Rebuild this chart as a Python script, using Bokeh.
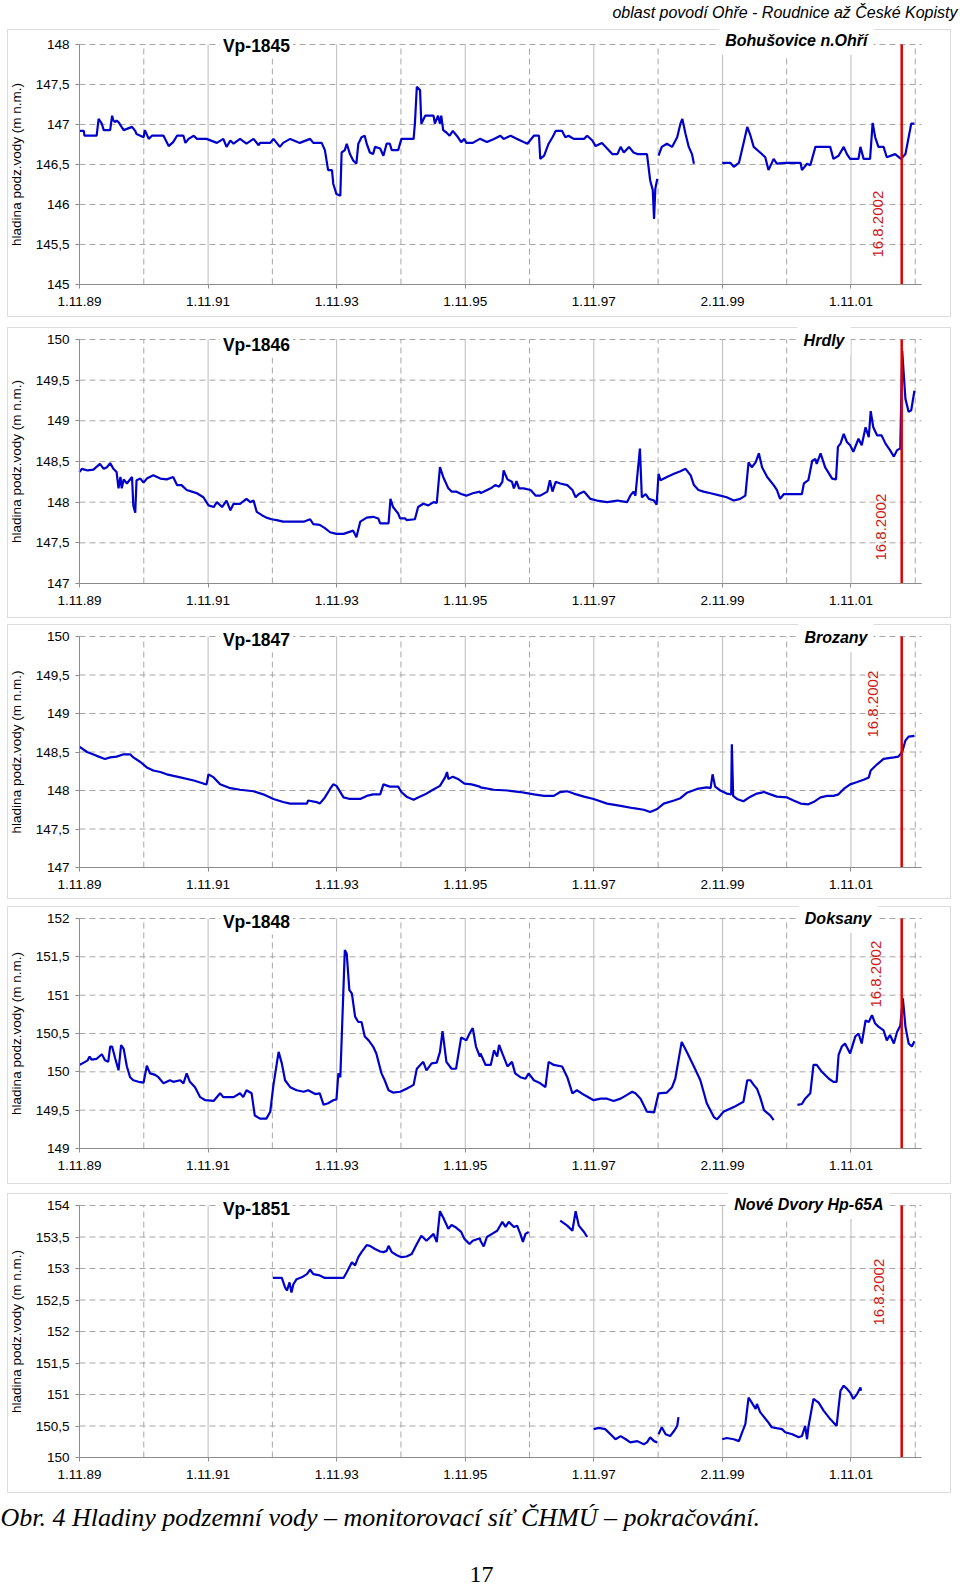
import math
from bokeh.plotting import figure
from bokeh.layouts import column
from bokeh.models import (Range1d, FixedTicker, CustomJSTickFormatter, Label, BoxAnnotation)
from bokeh.embed import file_html
from bokeh.resources import INLINE

nan = float("nan")

# ---------------- data ----------------
header_text = "oblast povodí Ohře - Roudnice až České Kopisty"
caption_text = "Obr. 4 Hladiny podzemní vody – monitorovací síť ČHMÚ – pokračování."
page_number = "17"
y_axis_title = "hladina podz.vody (m n.m.)"

x_tick_years = [1989.833, 1991.833, 1993.833, 1995.833, 1997.833, 1999.836, 2001.833]
x_tick_labels = ["1.11.89", "1.11.91", "1.11.93", "1.11.95", "1.11.97", "2.11.99", "1.11.01"]
x_minor_years = [1990.833, 1992.833, 1994.833, 1996.833, 1998.833, 2000.833, 2002.833]
flood_date = 2002.622
flood_label = "16.8.2002"

well_names = ["Vp-1845", "Vp-1846", "Vp-1847", "Vp-1848", "Vp-1851"]
station_names = ["Bohušovice n.Ohří", "Hrdly", "Brozany", "Doksany", "Nové Dvory Hp-65A"]

vp1845_t = [1989.83, 1989.90, 1989.91, 1990.10, 1990.13, 1990.18, 1990.21, 1990.31, 1990.34, 1990.36,
            1990.39, 1990.41, 1990.44, 1990.52, 1990.65, 1990.70, 1990.72, 1990.78, 1990.83, 1990.85,
            1990.91, 1990.96, 1991.14, 1991.22, 1991.29, 1991.35, 1991.45, 1991.48, 1991.53, 1991.61,
            1991.66, 1991.81, 1991.97, 1992.07, 1992.12, 1992.18, 1992.23, 1992.33, 1992.43, 1992.54,
            1992.62, 1992.64, 1992.80, 1992.85, 1992.95, 1993.00, 1993.11, 1993.26, 1993.42, 1993.47,
            1993.60, 1993.65, 1993.70, 1993.76, 1993.78, 1993.83, 1993.89, 1993.91, 1993.96, 1993.99,
            1994.04, 1994.09, 1994.14, 1994.17, 1994.22, 1994.27, 1994.30, 1994.35, 1994.40, 1994.43,
            1994.51, 1994.56, 1994.61, 1994.66, 1994.69, 1994.79, 1994.84, 1995.03, 1995.05, 1995.08,
            1995.13, 1995.15, 1995.21, 1995.34, 1995.36, 1995.41, 1995.44, 1995.46, 1995.49, 1995.54,
            1995.59, 1995.64, 1995.72, 1995.77, 1995.82, 1995.85, 1995.95, 1996.06,
            1996.07, 1996.17, 1996.28, 1996.38, 1996.43, 1996.54, 1996.64, 1996.74, 1996.80, 1996.90,
            1996.98, 1997.00, 1997.06, 1997.13, 1997.19, 1997.24, 1997.34, 1997.39, 1997.44, 1997.52,
            1997.68, 1997.73, 1997.81, 1997.86, 1997.96, 1998.04, 1998.12, 1998.20, 1998.25, 1998.30,
            1998.38, 1998.45, 1998.51, 1998.66, 1998.71, 1998.75, 1998.77, 1998.79, 1998.82,
            nan,
            1998.84, 1998.89, 1998.97, 1999.05, 1999.13, 1999.18, 1999.21, 1999.26, 1999.31, 1999.36, 1999.39,
            nan,
            1999.83, 1999.96, 2000.01, 2000.09, 2000.16, 2000.22, 2000.27, 2000.32, 2000.42, 2000.50,
            2000.55, 2000.63, 2000.68, 2000.81, 2001.05, 2001.07, 2001.15, 2001.20, 2001.28, 2001.51,
            2001.56, 2001.64, 2001.72, 2001.77, 2001.82, 2001.95, 2001.98, 2002.03, 2002.13, 2002.17,
            2002.21, 2002.26, 2002.34, 2002.39, 2002.52, 2002.61, 2002.68, 2002.73, 2002.77, 2002.82]
vp1845_h = [146.92, 146.92, 146.86, 146.86, 147.07, 147.01, 146.93, 146.93, 147.11, 147.05,
            147.03, 147.05, 147.03, 146.93, 146.97, 146.92, 146.88, 146.86, 146.84, 146.93,
            146.82, 146.86, 146.86, 146.73, 146.78, 146.86, 146.86, 146.77, 146.82, 146.86,
            146.82, 146.82, 146.77, 146.82, 146.72, 146.80, 146.76, 146.82, 146.76, 146.82,
            146.74, 146.77, 146.77, 146.82, 146.72, 146.77, 146.82, 146.77, 146.82, 146.77,
            146.77, 146.68, 146.43, 146.43, 146.26, 146.13, 146.11, 146.65, 146.68, 146.76,
            146.63, 146.55, 146.51, 146.76, 146.84, 146.86, 146.76, 146.65, 146.63, 146.72,
            146.70, 146.61, 146.76, 146.76, 146.68, 146.68, 146.82, 146.82, 147.01, 147.47,
            147.43, 147.01, 147.11, 147.11, 147.01, 147.11, 147.01, 147.11, 146.93, 146.90,
            146.86, 146.92, 146.84, 146.78, 146.82, 146.77, 146.77, 146.82,
            146.82, 146.78, 146.82, 146.86, 146.82, 146.86, 146.82, 146.78, 146.76, 146.86,
            146.86, 146.57, 146.61, 146.76, 146.84, 146.92, 146.92, 146.84, 146.86, 146.82,
            146.82, 146.86, 146.80, 146.73, 146.77, 146.70, 146.63, 146.63, 146.72, 146.65,
            146.72, 146.65, 146.63, 146.63, 146.30, 146.18, 145.82, 146.20, 146.32,
            nan,
            146.61, 146.72, 146.76, 146.72, 146.84, 147.01, 147.07, 146.88, 146.72, 146.63, 146.51,
            nan,
            146.52, 146.52, 146.47, 146.52, 146.76, 146.97, 146.86, 146.72, 146.65, 146.59,
            146.43, 146.57, 146.51, 146.52, 146.52, 146.43, 146.51, 146.49, 146.72, 146.72,
            146.57, 146.61, 146.72, 146.63, 146.57, 146.57, 146.72, 146.57, 146.57, 147.02,
            146.84, 146.72, 146.72, 146.59, 146.63, 146.57, 146.63, 146.84, 147.01, 147.01]

vp1846_t = [1989.83, 1989.87, 1989.96, 1990.05, 1990.15, 1990.21, 1990.26, 1990.31, 1990.36, 1990.41,
            1990.44, 1990.47, 1990.49, 1990.52, 1990.57, 1990.65, 1990.67, 1990.70, 1990.72, 1990.78,
            1990.83, 1990.88, 1990.98, 1991.09, 1991.19, 1991.29, 1991.35, 1991.42, 1991.50, 1991.58,
            1991.66, 1991.76, 1991.84, 1991.92, 1991.97, 1992.05, 1992.12, 1992.18, 1992.23, 1992.33,
            1992.43, 1992.49, 1992.54, 1992.59, 1992.67, 1992.74, 1992.82, 1992.90, 1993.00, 1993.16,
            1993.32, 1993.42, 1993.47, 1993.57, 1993.65, 1993.73, 1993.83, 1993.94, 1994.09, 1994.14,
            1994.20, 1994.30, 1994.40, 1994.48, 1994.51, 1994.64, 1994.67, 1994.71, 1994.79, 1994.82,
            1994.90, 1994.92, 1995.05, 1995.10, 1995.18, 1995.26, 1995.34, 1995.39, 1995.44, 1995.49,
            1995.57, 1995.62, 1995.69, 1995.77, 1995.85, 1995.95, 1996.06,
            1996.07, 1996.23, 1996.30, 1996.36, 1996.41, 1996.43, 1996.49, 1996.56, 1996.59, 1996.63,
            1996.67, 1996.74, 1996.85, 1996.93, 1997.00, 1997.11, 1997.15, 1997.19, 1997.24, 1997.31,
            1997.42, 1997.50, 1997.55, 1997.60, 1997.68, 1997.78, 1997.88, 1998.04, 1998.20, 1998.35,
            1998.40, 1998.45, 1998.48, 1998.55, 1998.58, 1998.64, 1998.69, 1998.77, 1998.81, 1998.84,
            1998.87, 1998.97, 1999.08, 1999.18, 1999.26, 1999.34, 1999.39, 1999.46, 1999.54, 1999.65,
            1999.80, 1999.90, 2000.01, 2000.11, 2000.19, 2000.24, 2000.29, 2000.35, 2000.40, 2000.45,
            2000.53, 2000.63, 2000.68, 2000.73, 2000.79, 2000.94, 2001.07, 2001.10, 2001.17, 2001.23,
            2001.28, 2001.30, 2001.36, 2001.43, 2001.54, 2001.60, 2001.63, 2001.67, 2001.72, 2001.77,
            2001.82, 2001.87, 2001.95, 2002.00, 2002.06, 2002.11, 2002.14, 2002.18, 2002.24, 2002.31,
            2002.37, 2002.44, 2002.50, 2002.55, 2002.60, 2002.63, 2002.65, 2002.68, 2002.73, 2002.77,
            2002.82]
vp1846_h = [148.37, 148.41, 148.39, 148.40, 148.47, 148.41, 148.43, 148.48, 148.41, 148.37,
            148.17, 148.31, 148.17, 148.28, 148.23, 148.31, 147.96, 147.87, 148.27, 148.29,
            148.24, 148.29, 148.33, 148.29, 148.28, 148.31, 148.21, 148.21, 148.15, 148.13,
            148.11, 148.06, 147.96, 147.94, 148.00, 147.94, 148.02, 147.90, 147.98, 147.98,
            148.04, 148.00, 148.02, 147.88, 147.84, 147.81, 147.79, 147.78, 147.76, 147.76,
            147.76, 147.79, 147.73, 147.72, 147.68, 147.63, 147.61, 147.61, 147.65, 147.57,
            147.76, 147.81, 147.82, 147.80, 147.74, 147.74, 148.04, 147.94, 147.86, 147.80,
            147.80, 147.78, 147.79, 147.94, 147.98, 147.96, 148.00, 147.99, 148.43, 148.31,
            148.17, 148.13, 148.13, 148.10, 148.08, 148.11, 148.13,
            148.11, 148.17, 148.21, 148.19, 148.25, 148.39, 148.28, 148.25, 148.17, 148.26,
            148.17, 148.17, 148.15, 148.08, 148.08, 148.13, 148.27, 148.13, 148.25, 148.23,
            148.21, 148.15, 148.06, 148.10, 148.13, 148.04, 148.02, 148.00, 148.02, 148.00,
            148.08, 148.13, 148.08, 148.66, 148.06, 148.10, 148.04, 148.02, 147.97, 148.35,
            148.27, 148.31, 148.35, 148.38, 148.41, 148.33, 148.21, 148.15, 148.13, 148.11,
            148.08, 148.06, 148.02, 148.04, 148.08, 148.49, 148.43, 148.49, 148.60, 148.43,
            148.31, 148.21, 148.15, 148.04, 148.10, 148.10, 148.10, 148.23, 148.27, 148.51,
            148.53, 148.47, 148.60, 148.43, 148.29, 148.28, 148.68, 148.72, 148.84, 148.74,
            148.70, 148.62, 148.78, 148.70, 148.92, 148.80, 149.12, 148.92, 148.82, 148.82,
            148.72, 148.64, 148.56, 148.64, 148.66, 149.86, 149.62, 149.27, 149.11, 149.13,
            149.37]

vp1847_t = [1989.83, 1989.95, 1990.10, 1990.23, 1990.31, 1990.41, 1990.52, 1990.62, 1990.67, 1990.78,
            1990.88, 1990.98, 1991.09, 1991.19, 1991.40, 1991.61, 1991.76, 1991.81, 1991.84, 1991.92,
            1992.02, 1992.18, 1992.33, 1992.54, 1992.69, 1992.85, 1993.00, 1993.11, 1993.26, 1993.37,
            1993.39, 1993.52, 1993.57, 1993.65, 1993.73, 1993.78, 1993.83, 1993.94, 1994.04, 1994.20,
            1994.30, 1994.40, 1994.51, 1994.56, 1994.66, 1994.79, 1994.84, 1994.92, 1995.03, 1995.10,
            1995.21, 1995.31, 1995.44, 1995.52, 1995.55, 1995.57, 1995.64, 1995.72, 1995.82, 1995.93,
            1996.06,
            1996.07, 1996.28, 1996.49, 1996.69, 1996.90, 1997.06, 1997.21, 1997.31, 1997.42, 1997.52,
            1997.68, 1997.83, 1998.04, 1998.25, 1998.45, 1998.61, 1998.71, 1998.82, 1998.92, 1999.08,
            1999.18, 1999.28, 1999.44, 1999.59, 1999.65, 1999.68, 1999.72, 1999.80, 1999.90, 1999.97,
            1999.98, 2000.00, 2000.06, 2000.16, 2000.27, 2000.37, 2000.48, 2000.58, 2000.68, 2000.84,
            2000.94, 2001.05, 2001.17, 2001.25, 2001.36, 2001.46, 2001.56, 2001.64, 2001.72, 2001.82,
            2001.93, 2002.03, 2002.11, 2002.14, 2002.24, 2002.34, 2002.50, 2002.57, 2002.63, 2002.68,
            2002.73, 2002.82]
vp1847_h = [148.57, 148.50, 148.45, 148.41, 148.43, 148.44, 148.47, 148.47, 148.43, 148.37,
            148.30, 148.26, 148.24, 148.21, 148.17, 148.13, 148.09, 148.08, 148.21, 148.17,
            148.08, 148.03, 148.01, 147.99, 147.95, 147.89, 147.85, 147.83, 147.83, 147.83,
            147.87, 147.85, 147.83, 147.91, 148.02, 148.08, 148.06, 147.91, 147.89, 147.89,
            147.93, 147.95, 147.95, 148.08, 148.05, 148.05, 147.98, 147.92, 147.88, 147.91,
            147.95, 148.00, 148.06, 148.17, 148.24, 148.15, 148.18, 148.15, 148.09, 148.08,
            148.05,
            148.04, 148.01, 148.00, 147.98, 147.95, 147.93, 147.93, 147.98, 147.99, 147.96,
            147.92, 147.89, 147.83, 147.80, 147.77, 147.75, 147.72, 147.76, 147.83, 147.87,
            147.90, 147.97, 148.02, 148.04, 148.03, 148.21, 148.05, 148.00, 147.96, 147.95,
            148.60, 147.93, 147.89, 147.86, 147.92, 147.96, 147.98, 147.95, 147.92, 147.91,
            147.87, 147.83, 147.82, 147.85, 147.91, 147.93, 147.93, 147.95, 148.02, 148.08,
            148.11, 148.14, 148.17, 148.26, 148.34, 148.41, 148.43, 148.44, 148.50, 148.65,
            148.70, 148.71]

vp1848_t = [1989.83, 1989.90, 1989.96, 1989.99, 1990.02, 1990.10, 1990.18, 1990.23, 1990.28, 1990.31,
            1990.34, 1990.39, 1990.44, 1990.48, 1990.52, 1990.57, 1990.62, 1990.67, 1990.75, 1990.83,
            1990.88, 1990.93, 1991.01, 1991.06, 1991.14, 1991.24, 1991.29, 1991.40, 1991.45, 1991.50,
            1991.55, 1991.63, 1991.71, 1991.79, 1991.92, 1992.02, 1992.07, 1992.18, 1992.23, 1992.33,
            1992.38, 1992.43, 1992.51, 1992.56, 1992.64, 1992.74, 1992.80, 1992.85, 1992.93, 1992.98,
            1993.03, 1993.11, 1993.21, 1993.32, 1993.39, 1993.50, 1993.57, 1993.63, 1993.70, 1993.78,
            1993.83, 1993.86, 1993.89, 1993.96, 1993.99, 1994.03, 1994.07, 1994.12, 1994.17, 1994.22,
            1994.27, 1994.33, 1994.40, 1994.45, 1994.53, 1994.58, 1994.64, 1994.71, 1994.82, 1994.92,
            1995.03, 1995.08, 1995.18, 1995.23, 1995.31, 1995.39, 1995.44, 1995.48, 1995.54, 1995.62,
            1995.69, 1995.77, 1995.85, 1995.90, 1995.95, 1996.00, 1996.06,
            1996.07, 1996.15, 1996.23, 1996.28, 1996.33, 1996.36, 1996.41, 1996.49, 1996.56, 1996.61,
            1996.69, 1996.77, 1996.82, 1996.90, 1997.00, 1997.08, 1997.13, 1997.21, 1997.34, 1997.42,
            1997.50, 1997.57, 1997.68, 1997.83, 1997.94, 1998.04, 1998.14, 1998.25, 1998.35, 1998.43,
            1998.48, 1998.56, 1998.66, 1998.77, 1998.84, 1998.97, 1999.05, 1999.10, 1999.20, 1999.28,
            1999.39, 1999.49, 1999.59, 1999.70, 1999.75, 1999.85, 2000.01, 2000.16, 2000.22, 2000.27,
            2000.32, 2000.37, 2000.42, 2000.48, 2000.58, 2000.63,
            nan,
            2001.00, 2001.07, 2001.12, 2001.20, 2001.25, 2001.30, 2001.38, 2001.49, 2001.56, 2001.61,
            2001.64, 2001.69, 2001.74, 2001.82, 2001.90, 2001.95, 2002.00, 2002.06, 2002.11, 2002.16,
            2002.21, 2002.26, 2002.34, 2002.39, 2002.44, 2002.50, 2002.55, 2002.60, 2002.64, 2002.68,
            2002.73, 2002.78, 2002.82]
vp1848_h = [150.09, 150.12, 150.15, 150.20, 150.16, 150.17, 150.23, 150.15, 150.13, 150.33,
            150.33, 150.17, 150.02, 150.35, 150.30, 150.07, 149.93, 149.89, 149.87, 149.86,
            150.08, 149.98, 149.96, 149.93, 149.85, 149.89, 149.87, 149.89, 149.85, 149.98,
            149.87, 149.80, 149.67, 149.63, 149.62, 149.72, 149.67, 149.67, 149.67, 149.72,
            149.67, 149.76, 149.72, 149.43, 149.39, 149.39, 149.48, 149.83, 150.26, 150.11,
            149.89, 149.80, 149.76, 149.74, 149.76, 149.71, 149.72, 149.57, 149.59, 149.63,
            149.64, 149.98, 149.93, 151.59, 151.54, 151.07, 151.02, 150.72, 150.65, 150.65,
            150.46, 150.41, 150.33, 150.24, 149.98, 149.89, 149.76, 149.73, 149.74, 149.78,
            149.83, 150.04, 150.13, 150.02, 150.11, 150.12, 150.26, 150.53, 150.13, 150.04,
            150.04, 150.45, 150.41, 150.50, 150.57, 150.33, 150.20,
            150.24, 150.09, 150.09, 150.28, 150.20, 150.35, 150.24, 150.07, 150.13, 149.98,
            149.93, 149.91, 149.98, 149.89, 149.85, 149.80, 150.13, 150.09, 150.07, 149.93,
            149.72, 149.76, 149.70, 149.63, 149.65, 149.65, 149.62, 149.65, 149.70, 149.74,
            149.72, 149.65, 149.48, 149.47, 149.72, 149.73, 149.80, 149.91, 150.39, 150.26,
            150.07, 149.89, 149.59, 149.41, 149.38, 149.48, 149.54, 149.61, 149.89, 149.89,
            149.83, 149.78, 149.67, 149.50, 149.43, 149.37,
            nan,
            149.57, 149.58, 149.65, 149.72, 150.09, 150.09, 150.00, 149.91, 149.87, 149.87,
            150.22, 150.33, 150.37, 150.24, 150.46, 150.50, 150.37, 150.67, 150.65, 150.74,
            150.63, 150.59, 150.54, 150.41, 150.48, 150.37, 150.52, 150.60, 150.96, 150.59,
            150.37, 150.33, 150.40]

vp1851_t = [1992.84, 1992.98, 1993.03, 1993.06, 1993.10, 1993.13, 1993.16, 1993.21, 1993.29, 1993.37,
            1993.42, 1993.47, 1993.57, 1993.65, 1993.78, 1993.89, 1993.94, 1993.99, 1994.07, 1994.12,
            1994.17, 1994.22, 1994.30, 1994.35, 1994.43, 1994.51, 1994.56, 1994.61, 1994.64, 1994.69,
            1994.77, 1994.84, 1994.92, 1995.00, 1995.08, 1995.15, 1995.23, 1995.34, 1995.39, 1995.44,
            1995.49, 1995.57, 1995.62, 1995.69, 1995.77, 1995.82, 1995.90, 1995.95, 1996.06,
            1996.07, 1996.12, 1996.17, 1996.25, 1996.33, 1996.41, 1996.46, 1996.51, 1996.59, 1996.64,
            1996.69, 1996.73, 1996.77, 1996.82,
            nan,
            1997.31, 1997.42, 1997.50, 1997.55, 1997.60, 1997.68, 1997.73,
            nan,
            1997.83, 1997.91, 1998.01, 1998.12, 1998.17, 1998.25, 1998.33, 1998.40, 1998.51, 1998.61,
            1998.66, 1998.71, 1998.77, 1998.82,
            nan,
            1998.84, 1998.89, 1998.95, 1999.02, 1999.08, 1999.13, 1999.15,
            nan,
            1999.83, 1999.90, 2000.01, 2000.09, 2000.14, 2000.19, 2000.24, 2000.29, 2000.35, 2000.37,
            2000.42, 2000.53, 2000.60, 2000.76, 2000.81, 2000.92, 2001.02, 2001.07, 2001.12, 2001.15,
            2001.17, 2001.25, 2001.33, 2001.41, 2001.51, 2001.61, 2001.64, 2001.67, 2001.72, 2001.77,
            2001.82, 2001.87, 2001.93, 2001.98, 2001.99]
vp1851_h = [152.85, 152.85, 152.70, 152.65, 152.78, 152.62, 152.75, 152.83, 152.86, 152.91,
            152.98, 152.91, 152.89, 152.85, 152.85, 152.85, 152.85, 152.94, 153.10, 153.05,
            153.18, 153.26, 153.37, 153.36, 153.31, 153.27, 153.26, 153.28, 153.36, 153.26,
            153.21, 153.18, 153.19, 153.23, 153.39, 153.52, 153.44, 153.55, 153.42, 153.91,
            153.81, 153.63, 153.69, 153.65, 153.58, 153.47, 153.39, 153.44, 153.48,
            153.44, 153.35, 153.50, 153.55, 153.60, 153.74, 153.66, 153.74, 153.66, 153.68,
            153.55, 153.42, 153.55, 153.58,
            nan,
            153.76, 153.68, 153.60, 153.91, 153.68, 153.58, 153.50,
            nan,
            150.45, 150.47, 150.45, 150.34, 150.29, 150.34, 150.29, 150.24, 150.26, 150.21,
            150.24, 150.32, 150.26, 150.24,
            nan,
            150.37, 150.48, 150.37, 150.34, 150.42, 150.50, 150.64,
            nan,
            150.29, 150.31, 150.29, 150.26, 150.40, 150.53, 150.95, 150.87, 150.77, 150.85,
            150.72, 150.58, 150.48, 150.45, 150.40, 150.37, 150.32, 150.34, 150.50, 150.29,
            150.48, 150.93, 150.87, 150.74, 150.61, 150.50, 150.79, 151.06, 151.14, 151.09,
            151.03, 150.93, 151.01, 151.11, 151.06]

series_t = [vp1845_t, vp1846_t, vp1847_t, vp1848_t, vp1851_t]
series_h = [vp1845_h, vp1846_h, vp1847_h, vp1848_h, vp1851_h]
y_limits = [(145, 148), (147, 150), (147, 150), (149, 152), (150, 154)]

# ---------------- layout / style ----------------
X_START, X_END = 1989.833, 2002.93
PLOT_L, PLOT_R = 79, 921            # page pixels of X_START / X_END
KX = (PLOT_R - PLOT_L) / (X_END - X_START)
FONT = "Liberation Sans"
GRID = "#a6a6a6"
GRID_SOLID = "#bcbcbc"
AXIS = "#8c8c8c"
BLUE = "#0000cc"
RED = "#e00000"


def xd(px):
    return X_START + (px - PLOT_L) / KX


# figure height, pixel rows of y-top / y-bottom, frame box rows, text anchors (page-pixel layout)
panel_layout = [
    dict(h=322, top=44, bot=284, box=(29, 316), title=(256, 45), station=(873, 40), red=(877, 257)),
    dict(h=298, top=17, bot=261, box=(5, 295), title=(256, 22), station=(850, 18), red=(880, 238)),
    dict(h=282, top=16, bot=247, box=(4, 278), title=(256, 19), station=(873, 17), red=(872, 117)),
    dict(h=286, top=16, bot=246, box=(4, 281), title=(256, 19), station=(877, 16), red=(875, 105)),
    dict(h=400, top=17, bot=269, box=(5, 304), title=(256, 20), station=(889, 16), red=(878, 137)),
]

x_fmt_code = """
for (let i = 0; i < tick_pos.length; i++) {
  if (Math.abs(tick_pos[i] - tick) < 0.01) { return tick_text[i]; }
}
return "";
"""
y_fmt_code = """
const r = Math.round(tick * 10) / 10;
if (Math.abs(r - Math.round(r)) < 1e-6) { return Math.round(r).toFixed(0); }
return r.toFixed(1).replace('.', ',');
"""


def make_panel(i):
    lay = panel_layout[i]
    y0, y1 = y_limits[i]
    H = lay["h"]
    upp = (y1 - y0) / (lay["bot"] - lay["top"])

    def yd(py):
        return y1 - (py - lay["top"]) * upp

    p = figure(width=960, height=H, x_range=Range1d(xd(0), xd(960)), y_range=Range1d(yd(H), yd(0)),
               output_backend="svg", toolbar_location=None,
               min_border=0, min_border_left=0, min_border_right=0,
               min_border_top=0, min_border_bottom=0)
    p.outline_line_color = None
    p.background_fill_color = "white"
    p.border_fill_color = "white"
    p.grid.visible = False

    yticks = []
    v = y0
    while v <= y1 + 1e-9:
        yticks.append(round(v, 1))
        v += 0.5

    # grid lines, limited to the data area
    p.segment(x0=[X_START] * len(yticks), y0=yticks, x1=[X_END] * len(yticks), y1=yticks,
              line_color=GRID, line_width=1, line_dash="6 4")
    p.segment(x0=x_minor_years, y0=[y0] * len(x_minor_years), x1=x_minor_years,
              y1=[y1] * len(x_minor_years), line_color=GRID, line_width=1, line_dash="6 4")
    p.segment(x0=x_tick_years, y0=[y0] * len(x_tick_years), x1=x_tick_years,
              y1=[y1] * len(x_tick_years), line_color=GRID_SOLID, line_width=1)

    # axes drawn at the data edges
    p.xaxis.fixed_location = y0
    p.xaxis.bounds = (X_START, X_END)
    p.yaxis.fixed_location = X_START
    p.yaxis.bounds = (y0, y1)
    p.xaxis.ticker = FixedTicker(ticks=x_tick_years, minor_ticks=[])
    p.xaxis.formatter = CustomJSTickFormatter(args=dict(tick_pos=x_tick_years, tick_text=x_tick_labels),
                                              code=x_fmt_code)
    p.yaxis.ticker = FixedTicker(ticks=yticks, minor_ticks=[])
    p.yaxis.formatter = CustomJSTickFormatter(code=y_fmt_code)
    for ax in (p.xaxis[0], p.yaxis[0]):
        ax.axis_line_color = AXIS
        ax.major_tick_line_color = AXIS
        ax.major_tick_out = 4
        ax.major_tick_in = 0
        ax.minor_tick_line_color = None
        ax.major_label_text_font = FONT
        ax.major_label_text_font_size = "13.5px"
        ax.major_label_text_color = "black"
    p.xaxis.major_label_standoff = 8
    p.yaxis.major_label_standoff = 6
    p.yaxis.axis_label = y_axis_title
    p.yaxis.axis_label_text_font = FONT
    p.yaxis.axis_label_text_font_size = "13.5px"
    p.yaxis.axis_label_text_font_style = "normal"
    p.yaxis.axis_label_text_color = "black"
    p.yaxis.axis_label_standoff = 9

    # water level series
    t = series_t[i]
    hv = series_h[i]
    n = min(len(t), len(hv))
    p.line(t[:n], hv[:n], line_color=BLUE, line_width=2.2)

    # flood date marker
    p.segment(x0=[flood_date], y0=[y0], x1=[flood_date], y1=[y1], line_color=RED, line_width=2.5)

    # panel frame
    bt, bb = lay["box"]
    p.add_layout(BoxAnnotation(left=xd(7), right=xd(950), top=yd(bt), bottom=yd(bb),
                               fill_color=None, fill_alpha=0, line_color=AXIS, line_width=1))

    tx, ty = lay["title"]
    p.add_layout(Label(x=xd(tx), y=yd(ty), text=well_names[i], text_align="center",
                       text_baseline="middle", text_font=FONT, text_font_size="17.5px",
                       text_font_style="bold", text_color="black",
                       background_fill_color="white", padding=3))
    sx, sy = lay["station"]
    p.add_layout(Label(x=xd(sx), y=yd(sy), text=station_names[i], text_align="right",
                       text_baseline="middle", text_font=FONT, text_font_size="16px",
                       text_font_style="bold italic", text_color="black",
                       background_fill_color="white", padding=6))
    rx, ry = lay["red"]
    p.add_layout(Label(x=xd(rx), y=yd(ry), text=flood_label, angle=90, angle_units="deg",
                       text_align="left", text_baseline="middle", text_font=FONT,
                       text_font_size="15px", text_color="#d01818"))
    return p, yd


panels = []
for i in range(5):
    fig, yd = make_panel(i)
    if i == 0:
        fig.add_layout(Label(x=xd(957), y=yd(12), text=header_text, text_align="right",
                             text_baseline="middle", text_font=FONT, text_font_size="16px",
                             text_font_style="italic", text_color="black"))
    if i == 4:
        fig.add_layout(Label(x=xd(0), y=yd(329), text=caption_text, text_align="left",
                             text_baseline="middle", text_font="Liberation Serif",
                             text_font_size="26px", text_font_style="italic", text_color="black"))
        fig.add_layout(Label(x=xd(481), y=yd(386), text=page_number, text_align="center",
                             text_baseline="middle", text_font="Liberation Serif",
                             text_font_size="24px", text_color="black"))
    panels.append(fig)

layout = column(panels, spacing=0)

open("out.html", "w").write(file_html(layout, INLINE))
